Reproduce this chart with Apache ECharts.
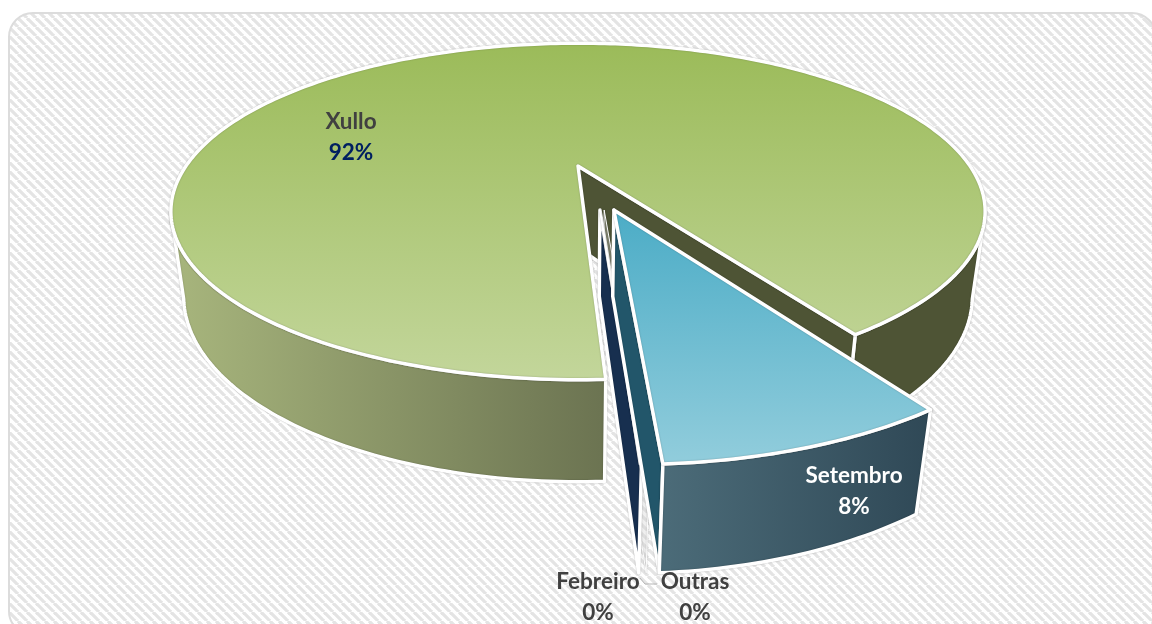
<!DOCTYPE html>
<html>
<head>
<meta charset="utf-8">
<style>html,body{margin:0;padding:0;background:#fff}#chart{width:1152px;height:624px}</style>
<script src="https://cdn.jsdelivr.net/npm/echarts@6/dist/echarts.min.js"></script>
</head>
<body>
<div id="chart"></div>
<script>
// values in pie order, clockwise
var categories = ['Setembro', 'Outras', 'Febreiro', 'Xullo'];
var values = [8.3, 0.05, 0.05, 91.6];
var nameColors = ['#fff', '#404040', '#404040', '#404040'];
var pctColors = ['#fff', '#404040', '#404040', '#002060'];

// where the first slice starts, degrees clockwise from the top of the disc
var startAngle = 146.8;
// 3d projection of the disc, fitted to the picture
var view = { ax: 578, ay: 166, A: 392, B: 156, k: 0.27, C: 84, m: 0.03 };
// rim angles where the side of the disc turns away from the viewer
var sideLeft = 254, sideRight = 106;
var explode = [[0.085, 0.262], [0.062, 0.262], [0.052, 0.262], [0, 0]];
var labelPos = [[854, 491], [695, 597], [598, 597], [351, 137]];
var zOrder = [40, 15, 20, 10];

var total = values.reduce(function (a, b) { return a + b; }, 0);

function project(x, y, lower) {
	var w = 1 - view.k * y + (lower ? view.m : 0);
	return [view.ax + view.A * x / w, view.ay + (view.B * y + (lower ? view.C : 0)) / w];
}
function rimPoint(i, deg, lower) {
	var a = deg * Math.PI / 180;
	return project(explode[i][0] + Math.sin(a), explode[i][1] - Math.cos(a), lower);
}
function rim(i, from, to, lower) {
	var pts = [], n = Math.max(2, Math.ceil(Math.abs(to - from)));
	for (var s = 0; s <= n; s++) {
		pts.push(rimPoint(i, from + (to - from) * s / n, lower));
	}
	return pts;
}
function hGrad(c0, c1) {
	return new echarts.graphic.LinearGradient(0, 0, 1, 0, [{ offset: 0, color: c0 }, { offset: 1, color: c1 }]);
}
function vGrad(c0, c1) {
	return new echarts.graphic.LinearGradient(0, 0, 0, 1, [{ offset: 0, color: c0 }, { offset: 1, color: c1 }]);
}
function poly(points, fill, z, lineWidth, stroke) {
	return {
		type: 'polygon',
		z2: z,
		shape: { points: points },
		style: {
			fill: fill,
			stroke: stroke || '#fff',
			lineWidth: lineWidth === undefined ? 3.5 : lineWidth,
			lineJoin: 'round',
			shadowBlur: 1.5,
			shadowColor: 'rgba(0,0,0,0.3)'
		}
	};
}
// the wall under a rim section
function wall(i, from, to, fill, z) {
	return poly(rim(i, from, to, false).concat(rim(i, to, from, true)), fill, z);
}
// the wall under a straight cut from the centre to the rim
function cut(i, deg, fill, z) {
	var c = explode[i];
	return poly([project(c[0], c[1], false), rimPoint(i, deg, false), rimPoint(i, deg, true), project(c[0], c[1], true)], fill, z);
}

function sliceFrom(index) {
	var sum = 0;
	for (var i = 0; i < index; i++) sum += values[i];
	return startAngle + sum / total * 360;
}

function renderSlice(params, api) {
	var i = params.dataIndex;
	var from = sliceFrom(i);
	var to = from + api.value(0) / total * 360;
	var z = zOrder[i];
	var name = categories[i];
	var kids = [];
	var c = project(explode[i][0], explode[i][1], false);

	if (name === 'Xullo') {
		kids.push(wall(i, from, sideLeft, hGrad('#a8b67d', '#6b7351'), z));
		kids.push(wall(i, sideRight + 360, to, '#4e5435', z));
		kids.push(cut(i, to, '#4e5435', z + 1));
		kids.push(poly([c].concat(rim(i, from, to, false)), vGrad('#9bbb59', '#c3d69b'), z + 2));
	} else if (name === 'Setembro') {
		kids.push(cut(i, to, '#22566a', z));
		kids.push(wall(i, from, to, hGrad('#4c6c79', '#2f4856'), z + 1));
		kids.push(poly([c].concat(rim(i, from, to, false)), vGrad('#4bacc6', '#92cddc'), z + 2));
	} else if (name === 'Febreiro') {
		kids.push(cut(i, from, '#172f4f', z));
		kids.push(poly([c].concat(rim(i, from, to, false)), '#fff', z + 1, 2));
	} else {
		kids.push(poly([c, rimPoint(i, from, false), rimPoint(i, from, true), project(explode[i][0], explode[i][1], true)], 'rgba(255,255,255,0.3)', z, 1));
	}

	kids.push({
		type: 'text',
		z2: 100,
		style: {
			x: labelPos[i][0],
			y: labelPos[i][1],
			align: 'center',
			verticalAlign: 'middle',
			text: '{n|' + name + '}\n{p|' + Math.round(api.value(0)) + '%}',
			rich: {
				n: { fontFamily: 'Lato', fontWeight: 'bold', fontSize: 22.5, lineHeight: 31, fill: nameColors[i], align: 'center' },
				p: { fontFamily: 'Lato', fontWeight: 'bold', fontSize: 22.5, lineHeight: 31, fill: pctColors[i], align: 'center' }
			}
		}
	});
	return { type: 'group', children: kids };
}

function hatch() {
	var size = 9, cv = document.createElement('canvas');
	cv.width = size; cv.height = size;
	var g = cv.getContext('2d');
	g.fillStyle = '#fff';
	g.fillRect(0, 0, size, size);
	g.strokeStyle = '#e4e4e4';
	g.lineWidth = 3.2;
	for (var o = -size; o <= size; o += size) {
		g.beginPath();
		g.moveTo(o, 0);
		g.lineTo(o + size, size);
		g.stroke();
	}
	return cv;
}

var myChart = echarts.init(document.getElementById('chart'));
myChart.setOption({
	animation: false,
	backgroundColor: '#fff',
	graphic: [{
		type: 'rect',
		z: -1,
		silent: true,
		shape: { x: 9, y: 13, width: 1147, height: 622, r: 24 },
		style: { fill: { image: hatch(), repeat: 'repeat' }, stroke: '#dcdcdc', lineWidth: 2 }
	}, {
		type: 'polyline',
		z: 5,
		silent: true,
		shape: { points: [[640, 578], [645, 584], [657, 584]] },
		style: { stroke: '#b5b5b5', lineWidth: 1, fill: null }
	}],
	series: [{
		type: 'custom',
		coordinateSystem: 'none',
		silent: true,
		renderItem: renderSlice,
		data: categories.map(function (n, i) { return { name: n, value: [values[i]] }; })
	}]
});
</script>
</body>
</html>
